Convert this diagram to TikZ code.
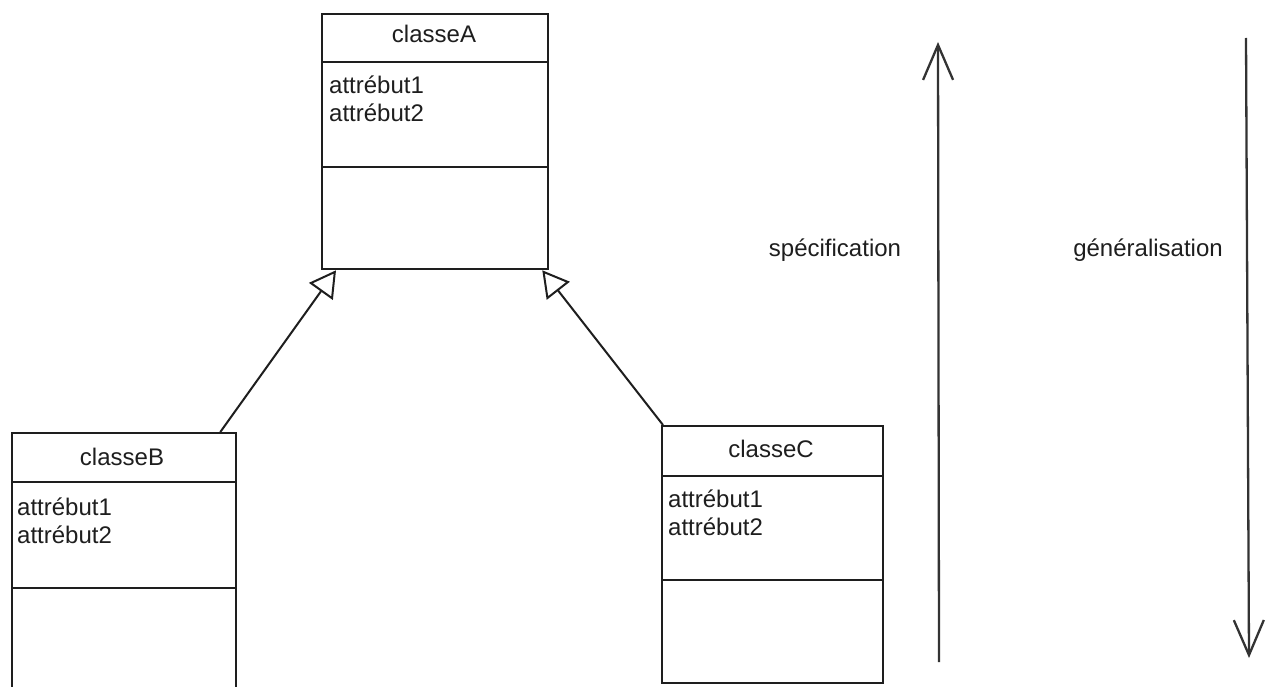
\documentclass[tikz,border=0pt]{standalone}
\usepackage{fontspec}
\setmainfont{Liberation Sans}
\usetikzlibrary{arrows.meta}
\definecolor{ink}{HTML}{1E1E1E}
\definecolor{wire}{HTML}{333333}
\tikzset{
  classbox/.style={draw=ink, line width=2.3pt, fill=white, inner sep=0pt},
  divider/.style={draw=ink, line width=2.3pt},
  label/.style={inner sep=0pt, text=ink, font=\fontsize{24}{28}\selectfont},
  inherit/.style={draw=ink, line width=2pt,
    -{Triangle[open, length=26pt, width=29pt, line width=2pt, fill=white]}},
  axis/.style={draw=wire, line width=2.3pt,
    -{Straight Barb[length=35pt, width=30pt, line width=2.3pt]}}
}
\begin{document}
\begin{tikzpicture}[x=1pt, y=-1pt]
  \clip (0,0) rectangle (1268,687);
  \fill[white] (0,0) rectangle (1268,687);

  % classeA
  \node[classbox, minimum width=226pt, minimum height=255pt, anchor=north west] (A) at (321,13) {};
  \draw[divider] (321,62) -- (547,62);
  \draw[divider] (321,167) -- (547,167);
  \node[label, anchor=base] (An) at (434,43) {classeA};
  \node[label, anchor=base west] (Aa1) at (329,94) {attrébut1};
  \node[label, anchor=base west] (Aa2) at (329,122) {attrébut2};

  % classeB (runs past the lower edge)
  \node[classbox, minimum width=224pt, minimum height=280pt, anchor=north west] (B) at (11,432) {};
  \draw[divider] (11,482) -- (235,482);
  \draw[divider] (11,588) -- (235,588);
  \node[label, anchor=base] (Bn) at (122,465) {classeB};
  \node[label, anchor=base west] (Ba1) at (17,515) {attrébut1};
  \node[label, anchor=base west] (Ba2) at (17,543) {attrébut2};

  % classeC
  \node[classbox, minimum width=221pt, minimum height=257pt, anchor=north west] (C) at (661,425) {};
  \draw[divider] (661,476) -- (882,476);
  \draw[divider] (661,580) -- (882,580);
  \node[label, anchor=base] (Cn) at (771,457) {classeC};
  \node[label, anchor=base west] (Ca1) at (668,507) {attrébut1};
  \node[label, anchor=base west] (Ca2) at (668,535) {attrébut2};

  % inheritance links
  \draw[inherit] ([xshift=-17pt]B.north east) -- ([xshift=15pt]A.south west);
  \draw[inherit] ([xshift=2pt]C.north west) -- ([xshift=-7pt]A.south east);

  % direction arrows
  \coordinate (s1) at (939,662);
  \coordinate (s2) at (938,42);
  \coordinate (g1) at (1246,38);
  \coordinate (g2) at (1249,658);
  \draw[axis] (s1) -- (s2);
  \draw[axis] (g1) -- (g2);
  \node[label, anchor=base] (spec) at (835,256) {spécification};
  \node[label, anchor=base] (gen) at (1148,256) {généralisation};
\end{tikzpicture}
\end{document}
